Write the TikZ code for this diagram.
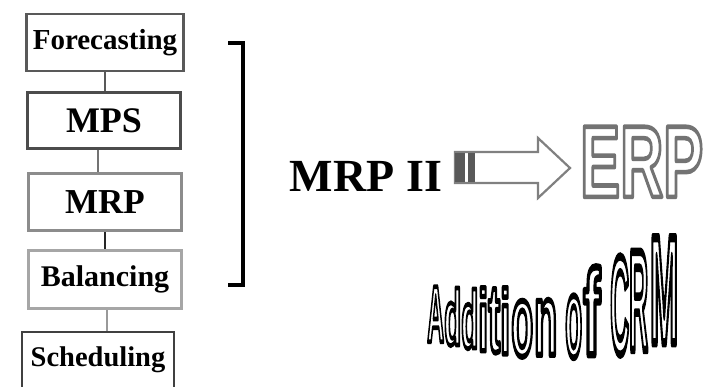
\documentclass[tikz,border=0pt]{standalone}
\usepackage{fontspec}
\setmainfont{Liberation Serif}
\newfontfamily\lsans{Liberation Sans}
\usepackage{graphicx}

% outlined text: #1 stroke width (pt), #2 fill grey, #3 stroke grey, #4 text
\newcommand\outlinedtext[4]{%
  \special{pdf:literal direct #1 w 1 j #2 g #3 G 2 Tr}#4\special{pdf:literal direct 0 Tr 0 j}}

\tikzset{
  stagebox/.style={draw=#1, line width=2.6pt, fill=white, inner sep=0pt, font=\bfseries},
  stagelink/.style={draw=#1, line width=2.4pt},
  warpchar/.style={inner sep=0pt, anchor=south west},
}

\begin{document}
\begin{tikzpicture}[x=1pt,y=-1pt]
\useasboundingbox (0,0) rectangle (711,386);
\clip (0,0) rectangle (711,386);
\fill[white] (0,0) rectangle (711,386);

% stage boxes
\node[stagebox=black!65, minimum width=157pt, minimum height=57pt] (fc) at (105,42.5)
  {\fontsize{29}{31}\selectfont Forecasting};
\node[stagebox=black!70, minimum width=153pt, minimum height=56pt] (mps) at (104,120.5)
  {\fontsize{36}{38}\selectfont MPS};
\node[stagebox=black!45, minimum width=153pt, minimum height=57pt, line width=3pt] (mrp) at (105,202)
  {\fontsize{35}{37}\selectfont MRP};
\node[stagebox=black!35, minimum width=153pt, minimum height=58pt, line width=3pt] (bal) at (105,279.5)
  {\fontsize{30}{32}\selectfont Balancing};
\node[stagebox=black!75, minimum width=152pt, minimum height=56pt] (sch) at (98,360)
  {\fontsize{28.5}{30}\selectfont Scheduling};

% connectors
\draw[stagelink=black!65] (fc.south) -- (mps.north -| fc.south);
\draw[stagelink=black!55] (mps.south -| 98,0) -- (mrp.north -| 98,0);
\draw[stagelink=black!85] (mrp.south) -- (bal.north);
\draw[stagelink=black!40] (bal.south -| 107,0) -- (sch.north -| 107,0);

% bracket
\coordinate (bt) at (228,43);
\coordinate (bb) at (228,285);
\draw[line width=4pt] (bt) -- (243,43) -- (243,285) -- (bb);

% MRP II
\node[font=\bfseries\fontsize{46}{48}\selectfont, inner sep=0pt] (mrp2) at (366,176) {MRP II};

% hollow arrow
\draw[draw=black!50, line width=2.2pt, fill=white]
  (455,152) -- (538,152) -- (538,138) -- (570,168) -- (538,198) -- (538,183) -- (455,183) -- cycle;
\fill[black!65] (455,153) rectangle (465,182);
\fill[black!65] (468,153) rectangle (475,182);

% ERP outlined
\node[inner sep=0pt, anchor=south west] (erp) at (580,197)
  {\resizebox{123pt}{70pt}{\lsans\bfseries\outlinedtext{0.45}{1}{0.45}{ERP}}};

% Addition of CRM (warped)
\foreach \c/\l/\b/\w/\h in {
  A/427/342/17/55, d/444/346/17/57, d/461/349/17/59, i/478/351/10/63,
  t/488/353/12/63, i/500/354/10/66, o/511/357/22/55, n/534/355/23/55,
  o/565/358/17/61, f/583/355/17/88,
  C/610/355/19/97, R/629/350/19/98, M/650/343/28/105} {
  \node[warpchar] at (\l,\b)
    {\resizebox{\w pt}{\h pt}{\fontsize{20}{22}\lsans\bfseries\selectfont\outlinedtext{1.2}{1}{0}{\c}}};
}
\end{tikzpicture}
\end{document}
